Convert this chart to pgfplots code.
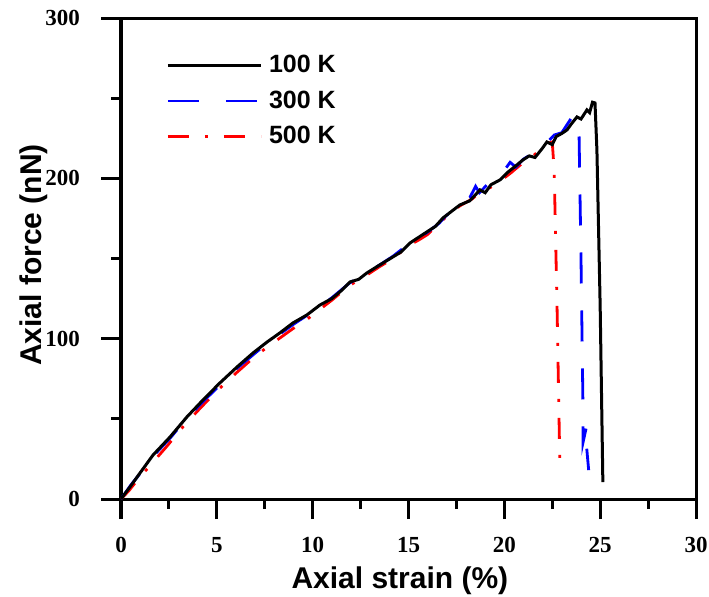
\documentclass[border=0pt]{standalone}
\usepackage{fontspec}
\setmainfont{Liberation Serif}
\newfontfamily\arial{Liberation Sans}
\usepackage{pgfplots}
\pgfplotsset{compat=1.18}

% 500 K
\pgfplotstableread{
x y
0 0
0.4 5
0.9 12.5
1.6 22
2.4 33
3.3 46
4.2 57.5
5.1 68.5
6.0 78.5
6.9 88
7.6 94.5
8.3 100.5
9.0 106.5
9.7 112
10.4 118.5
11.0 124
11.9 133
12.8 139.5
13.5 145
14.2 150
15.0 158
15.6 162
16.0 165
16.6 172
17.2 178.5
17.7 183
18.3 187
18.7 191
19.3 194.5
19.8 198.5
20.3 203
20.7 207
21.1 211
21.5 214
21.9 218
22.2 221.5
22.5 222.7
22.6 205
22.75 120
22.9 19
}\tblred

% 300 K
\pgfplotstableread{
x y
0 0
0.5 8.5
1.0 16
1.7 27
2.6 38.5
3.4 50
4.3 61
5.2 71.5
6.0 81
6.9 90
7.6 97
8.3 103
9.0 109
9.7 114.5
10.4 120.5
11.0 125.5
11.9 134.5
12.8 141
13.5 146
14.2 151.5
15.0 159
15.6 163.5
16.0 166.5
16.6 172
16.9 176
17.3 180
17.7 184
18.2 188
18.5 195
18.7 191
19.1 196
19.6 199
20.0 205
20.3 210
20.6 207
21.0 212
21.4 215
21.8 220
22.2 222
22.6 227
23.0 228.5
23.3 234
23.6 239.5
23.9 226
24.0 150
24.1 60
24.1 35
24.3 46
24.25 38
24.4 18
}\tblblue

% 100 K
\pgfplotstableread{
x y
0 0
0.5 8
0.99 16.2
1.67 27.4
2.56 38.7
3.44 51.2
4.28 61.8
5.16 72.4
6.05 82.3
6.89 91.1
7.62 97.9
8.29 103.6
8.97 109.8
9.70 114.8
10.38 121.0
11.0 125
11.5 130
11.95 135.4
12.4 137
12.83 141.0
13.5 146
14.19 151.0
14.6 154
15.08 159.7
15.5 163
15.96 166.6
16.4 170
16.80 175.3
17.2 179
17.68 183.4
18.2 186
18.73 192.8
19.0 191
19.3 196
19.77 199.0
20.2 204
20.66 208.4
20.97 211.5
21.3 214
21.6 213
22.0 219
22.22 222.7
22.5 221
22.7 226
23.0 228
23.27 230.2
23.5 234
23.79 238.3
24.0 237
24.31 242.7
24.45 241
24.6 247.5
24.73 247.0
24.83 217.7
25.0 120
25.14 10.6
}\tblblack

\begin{document}
\begin{tikzpicture}
\begin{axis}[
    scale only axis,
    width=287.5pt, height=240.5pt,
    xmin=0, xmax=30, ymin=0, ymax=300,
    xtick={0,5,...,30}, ytick={0,100,200,300},
    minor x tick num=1, minor y tick num=1,
    tick pos=left,
    tick align=outside,
    major tick length=10pt, minor tick length=5pt,
    axis line style={line width=1.5pt},
    every major tick/.append style={line width=1.5pt, black},
    every minor tick/.append style={line width=1.5pt, black},
    /pgf/number format/assume math mode=true,
    tick label style={font=\fontsize{11.5}{13}\selectfont\bfseries},
    yticklabel style={xshift=-7pt},
    xticklabel style={yshift=-5.5pt},
    xlabel={Axial strain (\%)},
    ylabel={Axial force (nN)},
    label style={font=\arial\fontsize{15}{18}\selectfont\bfseries},
    xlabel style={at={(axis description cs:0.485,0)}, anchor=base, yshift=-44.5pt},
    ylabel style={at={(axis description cs:0,0.507)}, anchor=base, yshift=39.5pt},
    legend style={draw=none, fill=none, at={(0.068,0.94)}, anchor=north west,
        font=\arial\fontsize{12.5}{14}\selectfont\bfseries, row sep=3.5pt,
        nodes={inner xsep=3.3pt}},
    legend cell align=left,
    reverse legend,
    legend image code/.code={\draw[#1] (0pt,0pt) -- (46.5pt,0pt);},
]
\addplot[red, line width=1.4pt, dash pattern=on 10.5pt off 8pt on 1.5pt off 8pt] table {\tblred};
\addlegendentry{500 K}
\addplot[blue, line width=1.4pt, dash pattern=on 15.5pt off 13.5pt] table {\tblblue};
\addlegendentry{300 K}
\addplot[black, line width=1.5pt] table {\tblblack};
\addlegendentry{100 K}
\coordinate (sw) at (rel axis cs:0,0);
\coordinate (ne) at (rel axis cs:1,1);
\end{axis}
\pgfresetboundingbox
\path ([xshift=-60.5pt,yshift=-48.5pt]sw) rectangle ([xshift=6.5pt,yshift=9pt]ne);
\end{tikzpicture}
\end{document}
